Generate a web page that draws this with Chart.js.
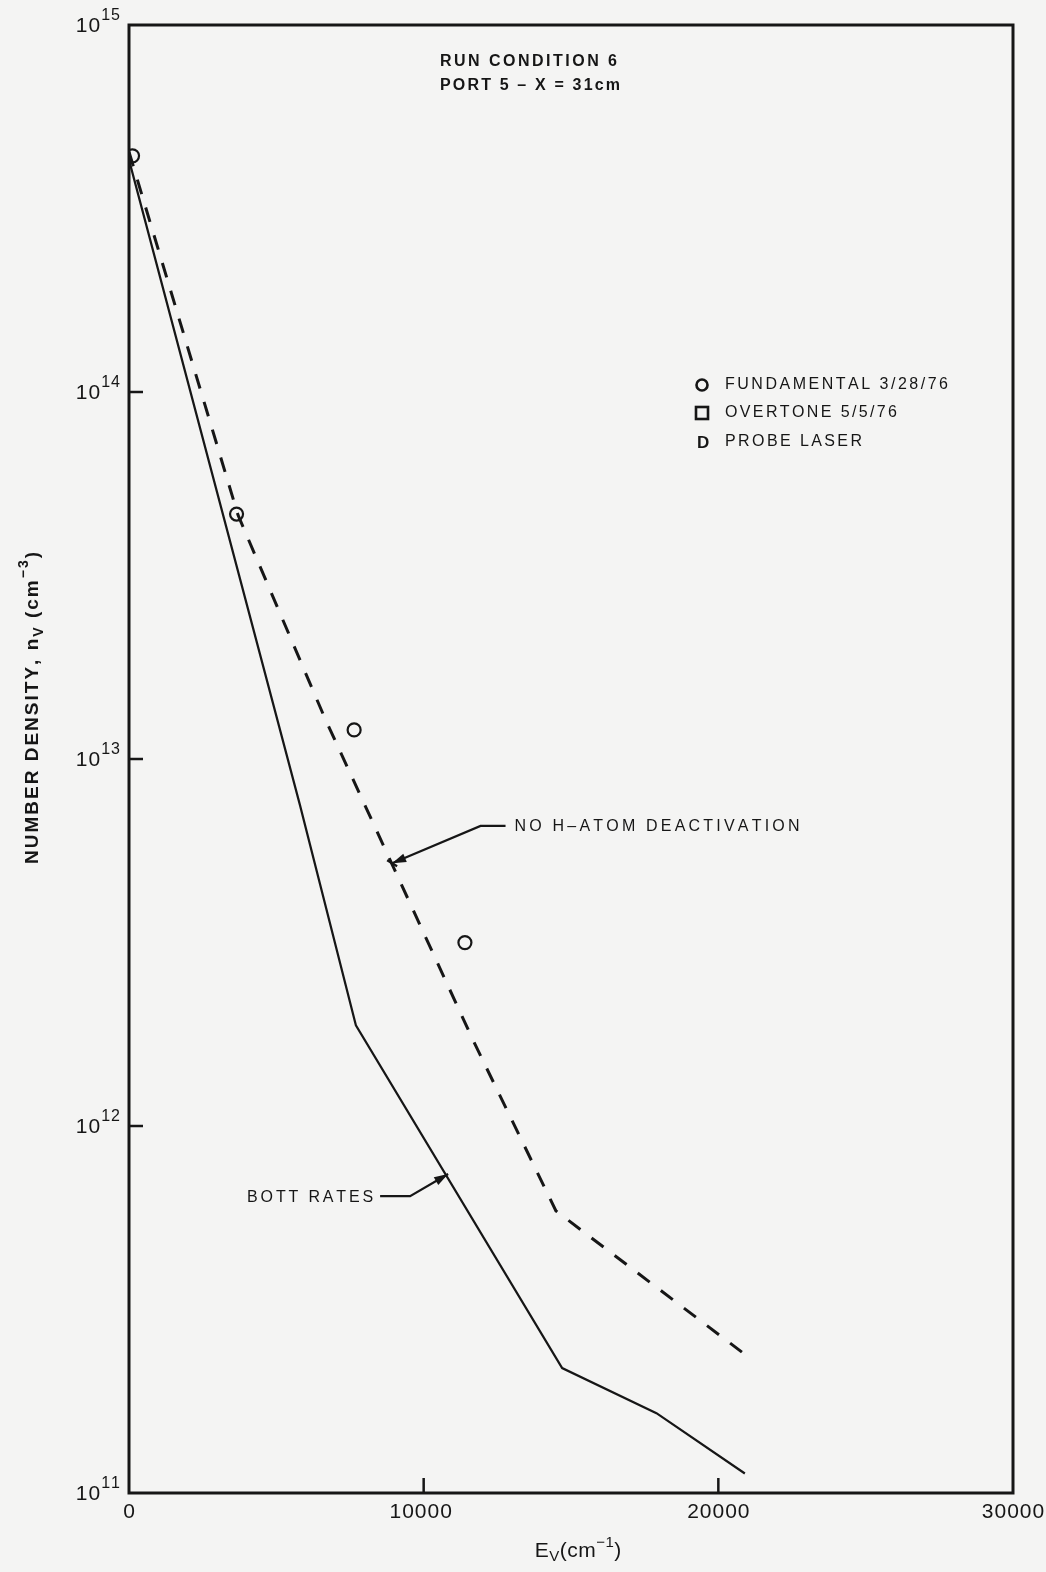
<!DOCTYPE html>
<html><head><meta charset="utf-8">
<script src="https://cdn.jsdelivr.net/npm/chart.js@4.4.1/dist/chart.umd.min.js"></script>
<style>html,body{margin:0;padding:0;background:#f4f4f3;}#wrap{width:1046px;height:1572px;position:relative}</style>
</head><body><div id="wrap"><canvas id="c" width="1046" height="1572"></canvas></div>
<script>
// ---- data ----
const xTicks = [0, 10000, 20000, 30000];
const xTickLabels = ['0', '10000', '20000', '30000'];
const yTicks = [1e11, 1e12, 1e13, 1e14, 1e15];
const yTickExp = ['11', '12', '13', '14', '15'];
const bottX = [0, 5800, 7700, 14700, 17900, 20900];
const bottY = [4.29e14, 7.5e12, 1.88e12, 2.19e11, 1.65e11, 1.13e11];
const noHX = [0, 3700, 6650, 11680, 14490, 20800];
const noHY = [4.51e14, 4.62e13, 1.29e13, 1.71e12, 5.87e11, 2.42e11];
const fundX = [120, 3650, 7640, 11400];
const fundY = [4.4e14, 4.65e13, 1.20e13, 3.16e12];
const legendLabels = ['FUNDAMENTAL 3/28/76', 'OVERTONE 5/5/76', 'PROBE LASER'];
const titleLines = ['RUN CONDITION 6', 'PORT 5 \u2013 X = 31cm'];
const noHLabel = 'NO H\u2013ATOM DEACTIVATION';
const bottLabel = 'BOTT RATES';
// annotation anchors (data coordinates)
const noHTip = [8930, 5.2e12], noHElbow = [11930, 6.57e12];
const bottTip = [10830, 7.4e11], bottElbow = [9540, 6.44e11];

const INK = '#161616';
const FONT = '"Liberation Sans", Arial, sans-serif';

function charsWidth(ctx, t) { let w = 0; for (const ch of t) w += ctx.measureText(ch).width; return w; }
function tracking(ctx, t, target) { const n = [...t].length; return Math.max(0, (target - charsWidth(ctx, t)) / (n - 1)); }
function drawTracked(ctx, t, x, y, tr) { for (const ch of t) { ctx.fillText(ch, x, y); x += ctx.measureText(ch).width + tr; } return x; }
// segments: [text, size, dy, bold]
function setF(ctx, s) { ctx.font = (s[3] ? 'bold ' : '') + s[1] + 'px ' + FONT; }
function richWidth(ctx, segs, tr) {
  tr = tr || 0; let w = 0, n = 0;
  for (const s of segs) { setF(ctx, s); for (const ch of s[0]) { w += ctx.measureText(ch).width; n++; } }
  return w + tr * (n - 1);
}
function richTracking(ctx, segs, target) {
  let n = 0; for (const s of segs) n += [...s[0]].length;
  return Math.max(0, (target - richWidth(ctx, segs, 0)) / (n - 1));
}
function drawRich(ctx, segs, x, y, tr) {
  tr = tr || 0;
  for (const s of segs) { setF(ctx, s); for (const ch of s[0]) { ctx.fillText(ch, x, y + s[2]); x += ctx.measureText(ch).width + tr; } }
}
function arrowHead(ctx, fx, fy, tx, ty, len, half) {
  const a = Math.atan2(ty - fy, tx - fx);
  ctx.beginPath();
  ctx.moveTo(tx, ty);
  ctx.lineTo(tx - len * Math.cos(a) + half * Math.sin(a), ty - len * Math.sin(a) - half * Math.cos(a));
  ctx.lineTo(tx - len * Math.cos(a) - half * Math.sin(a), ty - len * Math.sin(a) + half * Math.cos(a));
  ctx.closePath(); ctx.fill();
}

const deco = {
  id: 'deco',
  beforeDraw(chart) {
    const ctx = chart.ctx; ctx.save(); ctx.fillStyle = '#f4f4f3'; ctx.fillRect(0, 0, chart.width, chart.height); ctx.restore();
  },
  afterDraw(chart) {
    const ctx = chart.ctx, a = chart.chartArea, xs = chart.scales.x, ys = chart.scales.y;
    ctx.save();
    ctx.strokeStyle = INK; ctx.fillStyle = INK; ctx.lineCap = 'butt';
    // frame
    ctx.lineWidth = 3;
    ctx.strokeRect(a.left, a.top, a.right - a.left, a.bottom - a.top);
    // y ticks (inward) and labels
    ctx.lineWidth = 2.5;
    ctx.textBaseline = 'middle';
    ctx.textAlign = 'left';
    yTicks.forEach((v, i) => {
      const y = ys.getPixelForValue(v);
      if (i > 0 && i < yTicks.length - 1) { ctx.beginPath(); ctx.moveTo(a.left, y); ctx.lineTo(a.left + 14, y); ctx.stroke(); }
      const segs = [['10', 21, 1], [yTickExp[i], 16, -9]];
      const tr = 1;
      drawRich(ctx, segs, a.left - 9 - richWidth(ctx, segs, tr), y, tr);
    });
    // x ticks and labels
    ctx.font = '21px ' + FONT; ctx.textAlign = 'left';
    xTicks.forEach((v, i) => {
      const x = xs.getPixelForValue(v);
      if (i > 0 && i < xTicks.length - 1) { ctx.beginPath(); ctx.moveTo(x, a.bottom); ctx.lineTo(x, a.bottom - 15); ctx.stroke(); }
      const t = xTickLabels[i], tr = 1;
      const w = charsWidth(ctx, t) + tr * ([...t].length - 1);
      drawTracked(ctx, t, x - w / 2 - (i === 1 ? 3 : 0), a.bottom + 19, tr);
    });
    // x title
    const xt = [['E', 21, 0], ['V', 15, 6], ['(cm', 21, 0], ['\u22121', 15, -8], [')', 21, 0]];
    drawRich(ctx, xt, 578 - richWidth(ctx, xt, 0.5) / 2, a.bottom + 58, 0.5);
    // y title (rotated)
    ctx.save();
    ctx.translate(33, 708); ctx.rotate(-Math.PI / 2);
    const yt = [['NUMBER DENSITY, n', 19, 0, true], ['V', 14, 6, true], [' (cm', 19, 0, true], ['\u22123', 14, -9, true], [')', 19, 0, true]];
    const ytr = richTracking(ctx, yt, 312);
    drawRich(ctx, yt, -richWidth(ctx, yt, ytr) / 2, 0, ytr);
    ctx.restore();
    // title
    ctx.font = 'bold 16px ' + FONT;
    drawTracked(ctx, titleLines[0], 440, 62, tracking(ctx, titleLines[0], 177));
    ctx.font = 'bold 16px ' + FONT;
    drawTracked(ctx, titleLines[1], 440, 86, tracking(ctx, titleLines[1], 180));
    // legend
    ctx.font = '16px ' + FONT;
    const legTargets = [223, 172, 137], legY = [385, 413, 442];
    legendLabels.forEach((t, i) => drawTracked(ctx, t, 725, legY[i], tracking(ctx, t, legTargets[i])));
    ctx.lineWidth = 2.6;
    ctx.beginPath(); ctx.arc(702, legY[0], 5.5, 0, Math.PI * 2); ctx.stroke();
    ctx.strokeRect(696, legY[1] - 6, 12, 12);
    ctx.font = 'bold 17px ' + FONT; ctx.fillText('D', 697, legY[2] + 1);
    // annotations
    ctx.font = '16px ' + FONT; ctx.lineWidth = 2.2;
    let tx = xs.getPixelForValue(noHTip[0]), ty = ys.getPixelForValue(noHTip[1]);
    let ex = xs.getPixelForValue(noHElbow[0]), ey = ys.getPixelForValue(noHElbow[1]);
    ctx.beginPath(); ctx.moveTo(ex + 25, ey); ctx.lineTo(ex, ey); ctx.lineTo(tx, ty); ctx.stroke();
    arrowHead(ctx, ex, ey, tx, ty, 14, 4.5);
    ctx.beginPath(); ctx.moveTo(tx - 5, ty - 3); ctx.lineTo(tx + 5, ty + 3); ctx.stroke();
    drawTracked(ctx, noHLabel, ex + 34, ey + 1, tracking(ctx, noHLabel, 285));
    tx = xs.getPixelForValue(bottTip[0]); ty = ys.getPixelForValue(bottTip[1]);
    ex = xs.getPixelForValue(bottElbow[0]); ey = ys.getPixelForValue(bottElbow[1]);
    ctx.beginPath(); ctx.moveTo(ex - 30, ey); ctx.lineTo(ex, ey); ctx.lineTo(tx, ty); ctx.stroke();
    arrowHead(ctx, ex, ey, tx, ty, 14, 4.5);
    const bw = 126, btr = tracking(ctx, bottLabel, bw);
    drawTracked(ctx, bottLabel, ex - 37 - bw, ey + 1, btr);
    ctx.restore();
  }
};

const xy = (xa, ya) => xa.map((v, i) => ({ x: v, y: ya[i] }));

new Chart(document.getElementById('c'), {
  type: 'line',
  data: {
    datasets: [
      { label: 'BOTT RATES', data: xy(bottX, bottY), borderColor: INK, borderWidth: 2.2, pointRadius: 0, fill: false, tension: 0 },
      { label: 'NO H-ATOM DEACTIVATION', data: xy(noHX, noHY), borderColor: INK, borderWidth: 3, borderDash: [15, 14], pointRadius: 0, fill: false, tension: 0 },
      { label: 'FUNDAMENTAL 3/28/76', data: xy(fundX, fundY), showLine: false, pointStyle: 'circle', pointRadius: 6.5, pointBorderWidth: 2.2, pointBorderColor: INK, pointBackgroundColor: 'rgba(0,0,0,0)' }
    ]
  },
  options: {
    responsive: false, animation: false, devicePixelRatio: 1,
    layout: { padding: { left: 129, top: 25, right: 33, bottom: 79 } },
    plugins: { legend: { display: false }, tooltip: { enabled: false } },
    scales: {
      x: { type: 'linear', min: 0, max: 30000, display: false },
      y: { type: 'logarithmic', min: 1e11, max: 1e15, display: false }
    }
  },
  plugins: [deco]
});
</script></body></html>
